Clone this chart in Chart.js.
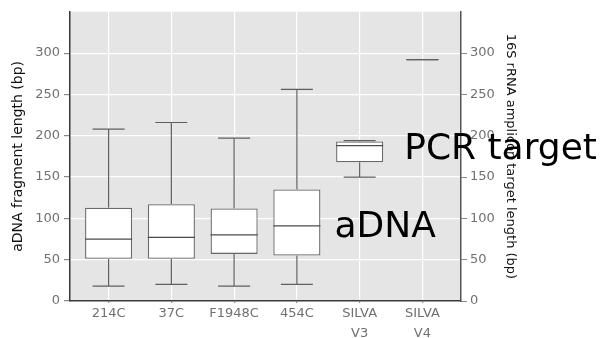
<!DOCTYPE html>
<html>
<head>
<meta charset="utf-8">
<script src="https://cdn.jsdelivr.net/npm/chart.js@4/dist/chart.umd.min.js"></script>
<style>
  html, body { margin: 0; padding: 0; background: #fff; }
  #wrap { width: 601px; height: 338px; }
</style>
</head>
<body>
<div id="wrap"><canvas id="c" width="601" height="338"></canvas></div>
<script>
// ---- data ----
const categories  = ['214C', '37C', 'F1948C', '454C', ['SILVA', 'V3'], ['SILVA', 'V4']];
const whiskerLow  = [18, 20, 18, 20, 150, 292];
const q1          = [51, 51, 57, 55, 168, 292];
const median      = [75, 77, 80, 91, 188, 292];
const q3          = [113, 117, 112, 135, 193, 292];
const whiskerHigh = [208, 216, 197, 256, 194, 292];
const yTicks      = [0, 50, 100, 150, 200, 250, 300];
const leftTitle   = 'aDNA fragment length (bp)';
const rightTitle  = '16S rRNA amplicon target length (bp)';
const annotations = [
  { text: 'aDNA', x: 3.6, y: 77 },
  { text: 'PCR target', x: 4.71, y: 172 }
];

// ---- styles ----
const BOX_HALF = 0.375;   // in category units
const CAP_HALF = 0.255;

const boxData = categories.map((c, i) => ({ x: i, y: q3[i] > q1[i] ? [q1[i], q3[i]] : null }));

const panelBg = {
  id: 'panelBg',
  beforeDraw(chart) {
    const { ctx, chartArea: a } = chart;
    ctx.save();
    ctx.fillStyle = '#e5e5e5';
    ctx.fillRect(a.left, a.top, a.right - a.left, a.bottom - a.top);
    ctx.restore();
  }
};

const boxParts = {
  id: 'boxParts',
  afterDatasetsDraw(chart) {
    const { ctx } = chart;
    const xs = chart.scales.x, ys = chart.scales.y;
    ctx.save();
    ctx.strokeStyle = '#5f5f5f';
    ctx.lineWidth = 1.2;
    categories.forEach((c, i) => {
      const cx = xs.getPixelForValue(i);
      const line = (x1, y1, x2, y2) => { ctx.beginPath(); ctx.moveTo(x1, y1); ctx.lineTo(x2, y2); ctx.stroke(); };
      // whiskers
      line(cx, ys.getPixelForValue(whiskerHigh[i]), cx, ys.getPixelForValue(q3[i]));
      line(cx, ys.getPixelForValue(q1[i]), cx, ys.getPixelForValue(whiskerLow[i]));
      // caps
      const cl = xs.getPixelForValue(i - CAP_HALF), cr = xs.getPixelForValue(i + CAP_HALF);
      line(cl, ys.getPixelForValue(whiskerHigh[i]), cr, ys.getPixelForValue(whiskerHigh[i]));
      line(cl, ys.getPixelForValue(whiskerLow[i]), cr, ys.getPixelForValue(whiskerLow[i]));
      // median
      if (q3[i] > q1[i]) {
        const bl = xs.getPixelForValue(i - BOX_HALF), br = xs.getPixelForValue(i + BOX_HALF);
        ctx.strokeStyle = '#4a4a4a';
        line(bl, ys.getPixelForValue(median[i]), br, ys.getPixelForValue(median[i]));
        ctx.strokeStyle = '#5f5f5f';
      }
    });
    ctx.restore();
  }
};

const overlayText = {
  id: 'overlayText',
  afterDraw(chart) {
    const { ctx } = chart;
    const xs = chart.scales.x, ys = chart.scales.y;
    ctx.save();
    ctx.fillStyle = '#000';
    ctx.font = '36px "DejaVu Sans"';
    ctx.textAlign = 'left';
    ctx.textBaseline = 'alphabetic';
    annotations.forEach(a => ctx.fillText(a.text, xs.getPixelForValue(a.x), ys.getPixelForValue(a.y)));
    ctx.restore();
  }
};

const setTicks = vals => scale => { scale.ticks = vals.map(v => ({ value: v })); };

new Chart(document.getElementById('c'), {
  type: 'bar',
  data: {
    datasets: [{
      data: boxData,
      backgroundColor: '#ffffff',
      borderColor: '#6a6a6a',
      borderWidth: 1.3,
      borderSkipped: false,
      barPercentage: 1,
      categoryPercentage: BOX_HALF * 2
    }]
  },
  plugins: [panelBg, boxParts, overlayText],
  options: {
    responsive: false,
    devicePixelRatio: 1,
    animation: false,
    layout: { padding: { top: 7, left: 0, right: 0, bottom: 0 } },
    plugins: { legend: { display: false }, tooltip: { enabled: false } },
    scales: {
      x: {
        type: 'linear',
        position: 'bottom',
        offset: false,
        min: -0.615,
        max: 5.615,
        afterBuildTicks: setTicks(categories.map((c, i) => i)),
        afterFit: s => { s.height = 37; },
        grid: { offset: false, color: '#ffffff', lineWidth: 1.2, tickLength: 2, tickColor: '#888' },
        border: { display: true, color: '#3a3a3a', width: 1.5 },
        ticks: {
          callback: v => categories[v],
          color: '#707070',
          font: { family: 'DejaVu Sans', size: 13, lineHeight: 1.5 },
          padding: 1,
          maxRotation: 0,
          autoSkip: false
        }
      },
      y: {
        type: 'linear',
        position: 'left',
        min: 0,
        max: 350,
        afterBuildTicks: setTicks(yTicks),
        afterFit: s => { s.width = 70; },
        grid: { color: '#ffffff', lineWidth: 1.2, tickLength: 6, tickColor: '#888' },
        border: { display: true, color: '#3a3a3a', width: 1.5 },
        ticks: {
          color: '#707070',
          font: { family: 'DejaVu Sans', size: 13 },
          padding: 4
        },
        title: {
          display: true,
          text: leftTitle,
          color: '#111',
          font: { family: 'DejaVu Sans', size: 14 },
          padding: { top: 10, bottom: 0 }
        }
      },
      y2: {
        type: 'linear',
        position: 'right',
        min: 0,
        max: 350,
        afterBuildTicks: setTicks(yTicks),
        afterFit: s => { s.width = 140; },
        grid: { drawOnChartArea: false, tickLength: 6, tickColor: '#888' },
        border: { display: true, color: '#555', width: 1.5 },
        ticks: {
          color: '#707070',
          font: { family: 'DejaVu Sans', size: 13 },
          padding: 3
        },
        title: {
          display: true,
          text: rightTitle,
          color: '#111',
          font: { family: 'DejaVu Sans', size: 13 },
          padding: { top: 83, bottom: 0 }
        }
      }
    }
  }
});
</script>
</body>
</html>
